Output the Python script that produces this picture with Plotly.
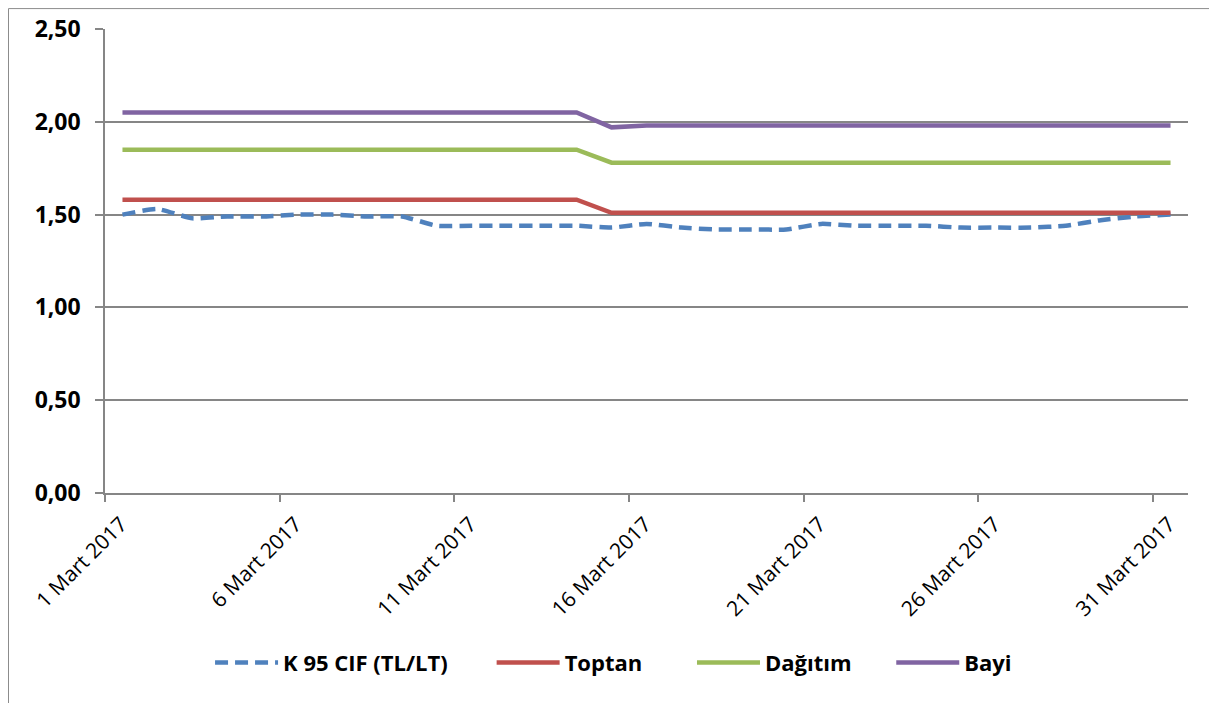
import pandas as pd
import plotly.graph_objects as go

dates = pd.date_range("2017-03-01", "2017-03-31", freq="D")

k95_cif = [1.50, 1.53, 1.48, 1.49, 1.49, 1.50, 1.50, 1.49, 1.49, 1.44,
           1.44, 1.44, 1.44, 1.44, 1.43, 1.45, 1.43, 1.42, 1.42, 1.42,
           1.45, 1.44, 1.44, 1.44, 1.43, 1.43, 1.43, 1.44, 1.47, 1.49, 1.50]
toptan = [1.58] * 14 + [1.51] * 17
dagitim = [1.85] * 14 + [1.78] * 17
bayi = [2.05] * 14 + [1.97] + [1.98] * 16

series_names = ["K 95 CIF (TL/LT)", "Toptan", "Dağıtım", "Bayi"]
colors = ["#4F81BD", "#C0504D", "#9BBB59", "#8064A2"]
legend_x = [0.097, 0.357, 0.542, 0.726]

tick_dates = dates[::5]
tick_labels = [f"{d.day} Mart 2017" for d in tick_dates]
tick_vals = tick_dates - pd.Timedelta(hours=12)

legend_ids = ["legend", "legend2", "legend3", "legend4"]

fig = go.Figure()
fig.add_trace(go.Scatter(x=dates, y=k95_cif, name=series_names[0], mode="lines",
                         legend=legend_ids[0],
                         line=dict(color=colors[0], width=4.5, dash="13px,7px",
                                   shape="spline", smoothing=0.5)))
for name, vals, col, lg in zip(series_names[1:], [toptan, dagitim, bayi], colors[1:], legend_ids[1:]):
    fig.add_trace(go.Scatter(x=dates, y=vals, name=name, mode="lines", legend=lg,
                             line=dict(color=col, width=4.5)))

grid = "#868686"
legend_common = dict(orientation="h", xanchor="left", y=-0.366, yanchor="middle",
                     font=dict(size=22, family="Open Sans", weight="bold"),
                     itemwidth=63, bgcolor="rgba(0,0,0,0)")

layout_legends = {}
for lg, lx in zip(legend_ids, legend_x):
    layout_legends[lg] = dict(x=lx, **legend_common)

fig.update_layout(
    width=1209, height=695,
    margin=dict(l=97, r=29, t=21, b=210, autoexpand=False),
    paper_bgcolor="white", plot_bgcolor="white",
    separators=", ",
    font=dict(family="Open Sans", color="black"),
    xaxis=dict(
        type="date", automargin=False,
        range=[dates[0] - pd.Timedelta(hours=12), dates[-1] + pd.Timedelta(hours=12)],
        tickmode="array", tickvals=tick_vals, ticktext=tick_labels,
        tickangle=-45, tickfont=dict(size=21, family="Open Sans"),
        ticklabelshift=16, ticklabelstandoff=2,
        showgrid=False, showline=True, linecolor=grid, linewidth=1.5,
        ticks="outside", ticklen=7, tickcolor=grid, tickwidth=1.5,
        zeroline=False,
    ),
    yaxis=dict(
        automargin=False,
        range=[0, 2.5], dtick=0.5, tick0=0, tickformat=".2f",
        tickfont=dict(size=23, family="Open Sans", weight="bold"),
        showgrid=True, gridcolor=grid, gridwidth=1.5,
        showline=True, linecolor=grid, linewidth=1.5,
        ticks="outside", ticklen=8, tickcolor=grid, tickwidth=1.5,
        ticklabelstandoff=10, zeroline=False,
    ),
    showlegend=True,
    shapes=[dict(type="rect", xref="paper", yref="paper",
                 x0=-0.0891, x1=1.5, y0=1.044, y1=-1.0,
                 line=dict(color="#8c8c8c", width=1), fillcolor="rgba(0,0,0,0)",
                 layer="below")],
    **layout_legends,
)

fig.write_html("out.html")
